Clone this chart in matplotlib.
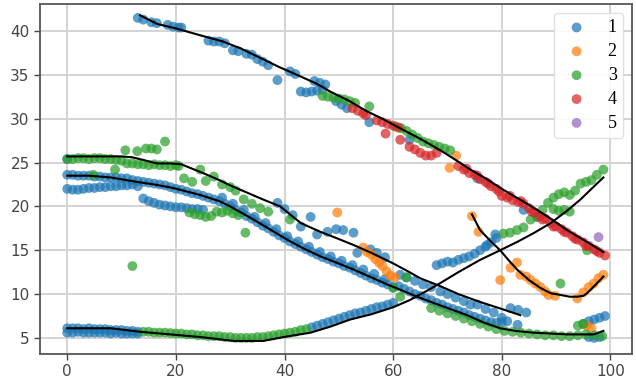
import numpy as np
import matplotlib
matplotlib.use("Agg")
import matplotlib.pyplot as plt

# ---------------- data ----------------
labels = ["1", "2", "3", "4", "5"]
colors = ["#1f77b4", "#ff7f0e", "#2ca02c", "#d62728", "#9467bd"]

# cluster 1 (blue)
c1_x = ([13, 14, 15.5, 16.5, 18.5, 19.5, 20.5, 21, 26, 27, 28, 29, 30.5, 31.5, 33, 34, 35, 36, 37, 38.7,
         41, 42, 43, 44, 45, 46, 47, 45.5, 46.5, 47.5, 49.5, 50.5, 51.5, 55.6, 63, 75.5, 84, 86.5]
        + [0]
        + list(range(0, 28))
        + list(range(0, 14))
        + [14, 15, 16, 17, 18, 19, 20, 21, 22, 23, 24, 25]
        + list(range(28, 61))
        + [28.5, 30.5, 32.5, 34.5, 36.5, 38.5, 40.5, 42.5, 44.5, 46.5, 48.5, 50.5, 52.5, 54.5, 56.5, 58.5]
        + list(range(61, 82))
        + [38.7, 40, 41.5, 43, 44.8, 46, 47.9, 49.5, 50.8, 52.7, 53.4, 55.8, 57, 58.5, 61.3, 62.5, 64, 65.5, 67,
           68.7, 70, 71.5, 73, 74.2, 75.5, 77, 78.5, 80, 81.6, 83, 84.5, 82.9]
        + list(range(0, 14)) + list(range(0, 14))
        + [45, 46, 47, 48, 49, 50, 51, 52, 53, 54, 55, 56, 57, 58, 59, 60]
        + [68, 69, 70, 71, 72, 73, 74, 75, 76, 77, 78, 79, 78.8, 77.3]
        + [95, 96, 97, 98, 99, 96, 97, 98])
c1_y = ([41.5, 41.3, 41.0, 40.9, 40.7, 40.5, 40.4, 40.4, 38.9, 38.8, 38.8, 38.6, 37.8, 37.7, 37.4, 37.3, 36.8, 36.5, 36.1, 34.4,
         35.4, 35.1, 33.1, 33.0, 33.1, 33.2, 33.3, 34.3, 34.1, 33.9, 32.0, 31.6, 31.2, 29.6, 27.6, 23.2, 19.6, 18.8]
        + [25.4]
        + [23.6, 23.6, 23.5, 23.5, 23.5, 23.4, 23.4, 23.3, 23.3, 23.3, 23.2, 23.2, 23.0, 22.9, 22.8, 22.7, 22.6, 22.5,
           22.4, 22.2, 22.0, 21.9, 21.7, 21.5, 21.4, 21.2, 21.0, 20.8]
        + [22.0, 21.9, 21.9, 22.0, 22.1, 22.1, 22.2, 22.2, 22.3, 22.3, 22.4, 22.4, 22.5, 22.3]
        + [20.9, 20.6, 20.4, 20.2, 20.1, 20.0, 19.9, 19.9, 19.8, 19.7, 19.7, 19.6]
        + [20.6, 20.3, 20.0, 19.6, 19.3, 18.9, 18.6, 18.2, 17.8, 17.5, 17.1, 16.7, 16.4, 16.0, 15.7, 15.4, 15.1,
           14.8, 14.5, 14.2, 14.0, 13.7, 13.5, 13.2, 13.0, 12.7, 12.4, 12.1, 11.8, 11.6, 11.3, 11.1, 10.8]
        + [21.0, 20.3, 19.6, 18.8, 18.1, 17.4, 16.6, 16.0, 15.4, 14.8, 14.3, 13.8, 13.3, 12.8, 12.3, 11.7]
        + [10.9, 10.6, 10.3, 10.0, 9.8, 9.5, 9.3, 9.0, 8.8, 8.5, 8.3, 8.1, 7.9, 7.6, 7.4, 7.2, 7.0, 6.8, 6.7, 6.8, 6.9]
        + [20.4, 19.7, 19.0, 17.7, 18.8, 16.8, 17.1, 17.4, 17.3, 17.0, 14.7, 15.1, 14.7, 14.2, 12.2, 11.9, 11.5,
           11.1, 10.8, 10.3, 10.0, 9.6, 9.2, 8.8, 8.8, 8.3, 7.9, 7.3, 8.4, 8.2, 7.9, 6.5]
        + [6.1, 6.1, 6.1, 6.0, 6.1, 6.0, 6.0, 6.0, 5.9, 5.9, 5.9, 5.8, 5.8, 5.7]
        + [5.6, 5.6, 5.7, 5.6, 5.6, 5.6, 5.6, 5.6, 5.5, 5.6, 5.5, 5.5, 5.5, 5.5]
        + [6.2, 6.4, 6.6, 6.8, 7.0, 7.2, 7.4, 7.6, 7.8, 7.9, 8.1, 8.3, 8.5, 8.6, 8.8, 9.0]
        + [13.3, 13.5, 13.7, 13.6, 13.9, 14.1, 14.3, 14.6, 15.0, 15.4, 15.9, 16.4, 16.8, 15.6]
        + [6.6, 6.9, 7.1, 7.3, 7.5, 5.1, 5.0, 5.1])

# cluster 2 (orange)
c2_x = [49.7, 54.5, 55.2, 56, 56.7, 57.4, 58, 58.8, 59.5, 60.3, 71.6, 70.4,
        74.5, 75.7, 79.7, 81.6, 82.8, 83.4, 84.5, 85.3, 86.2, 87.1, 88, 88.6, 89.8, 93.9, 95, 96, 96.9, 97.8, 98.7,
        95.6, 96.5]
c2_y = [19.3, 15.3, 14.8, 14.5, 14.0, 13.6, 13.2, 12.6, 12.1, 11.9, 25.8, 24.4,
        18.9, 17.1, 11.6, 13.0, 13.6, 12.2, 12.0, 11.6, 11.2, 10.8, 10.3, 9.9, 9.8, 9.5, 10.2, 10.8, 11.2, 11.8, 12.2,
        6.4, 6.1]

# cluster 3 (green)
c3_x = (list(range(0, 11))
        + [11, 12, 13, 14, 15, 16, 17, 18, 19, 20]
        + [10.7, 12.9, 14.5, 15.5, 16.5, 18, 8.8, 4.8, 12]
        + [20.5, 21.5, 23, 24.5, 25.5, 27, 28.5, 30, 31, 32.5, 34, 35.5, 37, 41]
        + [22.5, 23.5, 24.5, 25.5, 26.5, 27.5, 28.5, 29.5, 30.5, 31.5, 32.8]
        + [47, 48, 49, 50, 51, 52, 53, 55.6, 60.5, 61.5, 62.5, 63.5, 64.5, 65.5, 66.5, 67.5, 68.5, 69.5, 70.5]
        + [62.4, 60, 61.3]
        + [67, 68.5, 70, 71.5, 73, 74.5, 76, 77.5, 79, 80.5, 82, 83.5, 85, 86.5, 88, 89.5, 91, 92.5, 94, 95.5,
           97, 98.5, 94, 95]
        + list(range(14, 45))
        + [80.3, 81.5, 82.8, 84, 85.3, 86.5, 87.5, 88.5, 89.5, 90.5, 91.5, 92.5, 93.5, 94.5, 95.5, 96.5, 97.5, 98.7]
        + [89.5, 90.5, 91.5, 92.5, 95.7, 90.8])
c3_y = ([25.4, 25.4, 25.5, 25.5, 25.4, 25.5, 25.5, 25.4, 25.4, 25.3, 25.2]
        + [24.9, 24.9, 24.8, 24.8, 24.7, 24.8, 24.7, 24.7, 24.6, 24.7]
        + [26.4, 26.3, 26.6, 26.6, 26.5, 27.4, 24.2, 23.6, 13.2]
        + [24.6, 23.2, 22.8, 24.2, 22.9, 23.4, 22.5, 22.2, 21.8, 20.8, 20.3, 19.8, 19.4, 18.5]
        + [19.3, 19.1, 19.0, 18.8, 18.9, 19.4, 19.3, 19.5, 19.2, 19.0, 17.0]
        + [32.6, 32.5, 32.4, 32.3, 32.2, 32.0, 31.8, 31.4, 29.1, 28.9, 28.6, 28.2, 27.8, 27.4, 27.2, 27.0, 26.8, 26.6, 26.4]
        + [11.9, 10.7, 9.7]
        + [8.4, 8.1, 7.8, 7.5, 7.2, 6.9, 6.6, 6.3, 6.0, 5.8, 5.7, 5.6, 5.5, 5.4, 5.3, 5.3, 5.2, 5.2, 5.3, 5.4,
           5.3, 5.2, 6.4, 6.6]
        + [5.7, 5.7, 5.6, 5.6, 5.6, 5.55, 5.5, 5.5, 5.4, 5.4, 5.3, 5.3, 5.2, 5.2, 5.2, 5.1, 5.1, 5.0, 5.0, 5.0,
           5.0, 5.1, 5.1, 5.2, 5.3, 5.4, 5.5, 5.6, 5.7, 5.9, 6.0]
        + [16.9, 17.0, 17.3, 17.6, 18.5, 18.8, 19.6, 20.4, 21.0, 21.4, 21.6, 21.3, 21.8, 22.6, 22.8, 23.0, 23.6, 24.2]
        + [19.7, 19.5, 19.6, 19.4, 15.0, 11.2])

# cluster 4 (red)
c4_x = ([52.5, 53.5, 54.5, 55, 57, 58, 59, 60, 61, 58.6, 61.3, 63, 64, 65, 66, 67, 68]
        + list(range(72, 100))
        + [73.5, 75.5, 77.5, 79.5, 81.5, 83.5, 85.5, 87.5, 89.5, 91.5, 93.5, 95.5, 97.5])
c4_y = ([31.2, 30.9, 30.6, 30.4, 29.8, 29.6, 29.4, 29.2, 29.0, 28.3, 27.6, 26.8, 26.5, 26.1, 25.8, 25.8, 26.1]
        + [24.6, 24.2, 23.8, 23.6, 23.1, 22.8, 22.3, 22.0, 21.2, 21.0, 20.7, 20.5, 20.3, 19.8, 19.3, 18.9, 18.6,
           18.1, 17.7, 17.4, 17.0, 16.6, 16.2, 15.9, 15.5, 15.1, 14.7, 14.4]
        + [24.3, 23.5, 22.6, 21.7, 21.2, 20.6, 19.4, 18.5, 17.7, 17.1, 16.3, 15.5, 14.9])

# cluster 5 (purple)
c5_x = [97.8]
c5_y = [16.5]

# fitted black curves
fitA_x = [13.4, 16.6, 20, 24, 28.7, 32, 36, 39, 42.3, 45.9, 48.4, 52, 55, 58, 61, 65, 68.7, 71.5, 74.2, 77, 80,
          83, 86, 89, 92, 95, 98.7]
fitA_y = [41.8, 40.8, 40.3, 39.6, 38.8, 38.0, 36.8, 35.9, 35.0, 34.0, 33.1, 32.0, 30.9, 30.0, 29.0, 27.7, 26.4,
          25.3, 24.2, 23.2, 22.0, 20.9, 19.8, 18.6, 17.3, 16.2, 14.8]
fitB_x = [0, 5, 10, 12, 14, 16.5, 19, 21, 23, 25, 28, 30, 33, 36, 39.2, 41, 43, 46.6, 49.5, 52.7, 56, 60, 63, 65,
          68.7, 72, 76, 80, 83.4]
fitB_y = [25.7, 25.7, 25.7, 25.6, 25.3, 24.9, 24.9, 24.8, 24.3, 23.8, 23.0, 22.4, 21.6, 20.8, 20.0, 19.1, 18.1,
          17.1, 16.4, 15.6, 14.7, 13.5, 12.5, 11.8, 10.9, 10.0, 9.1, 8.3, 7.6]
fitC_x = [0, 4, 8, 12.8, 16, 19.5, 22, 24.5, 28, 30, 34.3, 37, 40.5, 43.5, 46.6, 49.5, 52.7, 56, 58.9, 61.3, 64,
          67.4, 70.5, 73.6, 76.5, 79.7, 82.5, 85.8, 89, 92, 95, 96.9, 98.7]
fitC_y = [23.5, 23.5, 23.3, 22.8, 22.5, 22.1, 21.7, 21.3, 20.6, 20.0, 18.5, 17.5, 16.2, 15.2, 14.3, 13.6, 12.8,
          11.9, 11.1, 10.5, 9.8, 9.0, 8.3, 7.6, 6.8, 6.1, 5.8, 5.6, 5.5, 5.4, 5.4, 5.4, 5.8]
fitD_x = [0, 4, 8, 13.4, 19, 24.5, 30.6, 36.1, 39.8, 44.8, 48.5, 52.1, 56, 60, 63, 66, 68, 72, 76, 79.7, 83, 86,
          89, 92, 94.5, 96.5, 98.7]
fitD_y = [6.1, 6.1, 6.1, 5.7, 5.4, 5.1, 4.66, 4.66, 5.1, 5.6, 6.3, 7.1, 7.7, 8.5, 9.3, 10.3, 11.0, 12.5, 13.9,
          15.0, 16.0, 17.0, 18.1, 19.5, 20.8, 22.0, 23.3]
fitE_x = [74.5, 76, 78, 79.7, 81.2, 82.8, 85, 87.1, 89, 90.8, 92.5, 93.9, 95, 95.7, 97, 98.7]
fitE_y = [19.1, 17.3, 16.0, 15.0, 13.9, 12.8, 11.6, 10.7, 10.1, 9.9, 9.7, 9.7, 9.8, 10.1, 10.9, 12.0]

x_ticks = [0, 20, 40, 60, 80, 100]
y_ticks = [5, 10, 15, 20, 25, 30, 35, 40]

# ---------------- figure ----------------
fig = plt.figure(figsize=(6.36, 3.86), dpi=100)
ax = fig.add_axes([0.063, 0.083, 0.931, 0.907])

clusters = [(c1_x, c1_y), (c2_x, c2_y), (c3_x, c3_y), (c4_x, c4_y), (c5_x, c5_y)]
for (xs, ys), lab, col in zip(clusters, labels, colors):
    ax.scatter(xs, ys, s=50, color=col, alpha=0.72, edgecolors="none", label=lab, zorder=2)

for fx, fy in [(fitA_x, fitA_y), (fitB_x, fitB_y), (fitC_x, fitC_y), (fitD_x, fitD_y), (fitE_x, fitE_y)]:
    ax.plot(fx, fy, color="black", lw=1.5, zorder=3)

ax.set_xlim(-5, 104)
ax.set_ylim(3.17, 43.1)
ax.set_xticks(x_ticks)
ax.set_yticks(y_ticks)
ax.grid(True, color="#d3d3d3", lw=1.4)
ax.set_axisbelow(True)
for sp in ax.spines.values():
    sp.set_color("#555555")
    sp.set_linewidth(1.3)
ax.tick_params(labelsize=11, colors="#444444", length=4, width=1.0)

leg = ax.legend(loc="upper right", prop={"family": "Liberation Serif", "size": 13},
                handletextpad=0.85, labelspacing=0.38, borderpad=0.35, framealpha=0.9,
                edgecolor="#dddddd", markerscale=1.0, handlelength=1.75)

fig.savefig("out.png", dpi=100)
